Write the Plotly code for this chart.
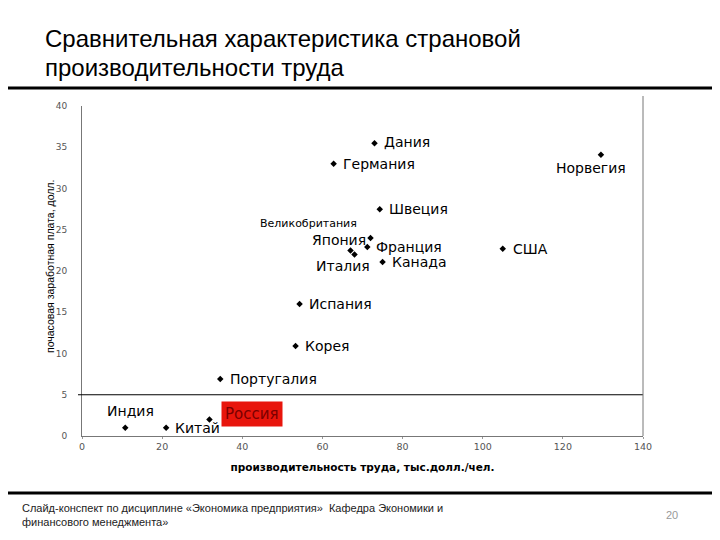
import plotly.graph_objects as go

countries = ["Дания", "Германия", "Норвегия", "Швеция", "Великобритания", "Япония",
             "Франция", "Италия", "Канада", "США", "Испания", "Корея", "Португалия",
             "Индия", "Китай", "Россия"]
productivity = [73.0, 62.8, 129.5, 74.3, 72.0, 67.0, 71.2, 68.0, 75.0, 105.0,
                54.3, 53.3, 34.5, 10.8, 21.0, 31.8]
wage = [35.5, 33.0, 34.1, 27.5, 24.0, 22.5, 22.9, 22.0, 21.1, 22.7,
        16.0, 10.9, 6.9, 1.0, 1.0, 2.0]
x_ticks = [0, 20, 40, 60, 80, 100, 120, 140]
y_ticks = [0, 5, 10, 15, 20, 25, 30, 35, 40]
threshold = 5

# label placement style: (xanchor, yanchor, xshift, yshift)
label_pos = {
    "Дания": ("left", "middle", 7, 1),
    "Германия": ("left", "middle", 7, 0),
    "Норвегия": ("center", "top", -10, -3),
    "Швеция": ("left", "middle", 7, 0),
    "Великобритания": ("right", "middle", -12, 15),
    "Япония": ("right", "middle", 18, 10),
    "Франция": ("left", "middle", 7, 0),
    "Италия": ("right", "middle", 18, -11),
    "Канада": ("left", "middle", 7, 0),
    "США": ("left", "middle", 8, 0),
    "Испания": ("left", "middle", 7, 0),
    "Корея": ("left", "middle", 7, 0),
    "Португалия": ("left", "middle", 8, 0),
    "Индия": ("right", "middle", 31, 17),
    "Китай": ("left", "middle", 7, 0),
    "Россия": ("left", "middle", 12, 6),
}

W, H = 712, 532          # page has 8px body margin
L, R, T, B = 74, 77, 98, 104
PW, PH = W - L - R, H - T - B


def px(page_x):
    return (page_x - 8 - L) / PW


def py(page_y):
    return (H - B - (page_y - 8)) / PH


LBL = "DejaVu Sans"

fig = go.Figure()
fig.add_trace(go.Scatter(
    x=productivity, y=wage, mode="markers",
    marker=dict(symbol="diamond", size=5, color="black"),
    hoverinfo="text", text=countries, showlegend=False,
))

for c, xv, yv in zip(countries, productivity, wage):
    xa, ya, xs, ys = label_pos[c]
    if c == "Россия":
        kw = dict(bgcolor="#e8150c", font=dict(family=LBL, size=15, color="#7a0000"), borderpad=3)
    else:
        size = 11 if c == "Великобритания" else 14
        kw = dict(font=dict(family=LBL, size=size, color="black"))
    fig.add_annotation(x=xv, y=yv, xref="x", yref="y", text=c, showarrow=False,
                       xanchor=xa, yanchor=ya, xshift=xs, yshift=ys, **kw)

# threshold line
fig.add_shape(type="line", xref="paper", yref="y", x0=px(78), x1=1.0, y0=threshold, y1=threshold,
              line=dict(color="black", width=1.2))
# right frame line
fig.add_shape(type="line", xref="paper", yref="paper", x0=1.0, x1=1.0, y0=0, y1=py(96),
              line=dict(color="#777777", width=1))

# slide decorations
fig.add_shape(type="line", xref="paper", yref="paper", x0=px(0), x1=px(730), y0=py(88), y1=py(88),
              line=dict(color="black", width=3))
fig.add_shape(type="line", xref="paper", yref="paper", x0=px(0), x1=px(730), y0=py(493), y1=py(493),
              line=dict(color="black", width=3))

fig.add_annotation(xref="paper", yref="paper", x=px(43), y=py(38), yanchor="middle",
                   xanchor="left", align="left", showarrow=False,
                   text="Сравнительная характеристика страновой",
                   font=dict(family="Liberation Sans", size=24, color="black"))
fig.add_annotation(xref="paper", yref="paper", x=px(43), y=py(68), yanchor="middle",
                   xanchor="left", align="left", showarrow=False,
                   text="производительности труда",
                   font=dict(family="Liberation Sans", size=24, color="black"))
fig.add_annotation(xref="paper", yref="paper", x=px(20), y=py(500),
                   xanchor="left", yanchor="top", align="left", showarrow=False,
                   text="Слайд-конспект по дисциплине «Экономика предприятия»  Кафедра Экономики и<br>финансового менеджмента»",
                   font=dict(family="Liberation Sans Narrow, Liberation Sans", size=11, color="#222222"))
fig.add_annotation(xref="paper", yref="paper", x=px(672), y=py(515),
                   xanchor="center", yanchor="middle", showarrow=False,
                   text="20", font=dict(family="Liberation Sans", size=11, color="#999999"))

# y axis title
fig.add_annotation(xref="paper", yref="paper", x=px(50), y=py(267), textangle=-90,
                   xanchor="center", yanchor="middle", showarrow=False,
                   text="почасовая заработная плата, долл.",
                   font=dict(family="Liberation Sans", size=10.5, color="black"))

fig.update_layout(
    width=W, height=H,
    margin=dict(l=L, r=R, t=T, b=B),
    paper_bgcolor="white", plot_bgcolor="white",
    xaxis=dict(range=[0, 140], tickvals=x_ticks,
               showgrid=False, zeroline=False, showline=True, linecolor="#777777", linewidth=1,
               ticks="outside", ticklen=2, tickcolor="#999999",
               tickfont=dict(family=LBL, size=9.5, color="#555555"),
               title=dict(text="<b>производительность труда, тыс.долл./чел.</b>",
                          font=dict(family=LBL, size=10.5, color="black"), standoff=12)),
    yaxis=dict(range=[0, 40], tickvals=y_ticks,
               showgrid=False, zeroline=False, showline=True, linecolor="#777777", linewidth=1,
               ticks="", ticklabelstandoff=12,
               tickfont=dict(family=LBL, size=9, color="#555555")),
)

fig.write_html("out.html")
